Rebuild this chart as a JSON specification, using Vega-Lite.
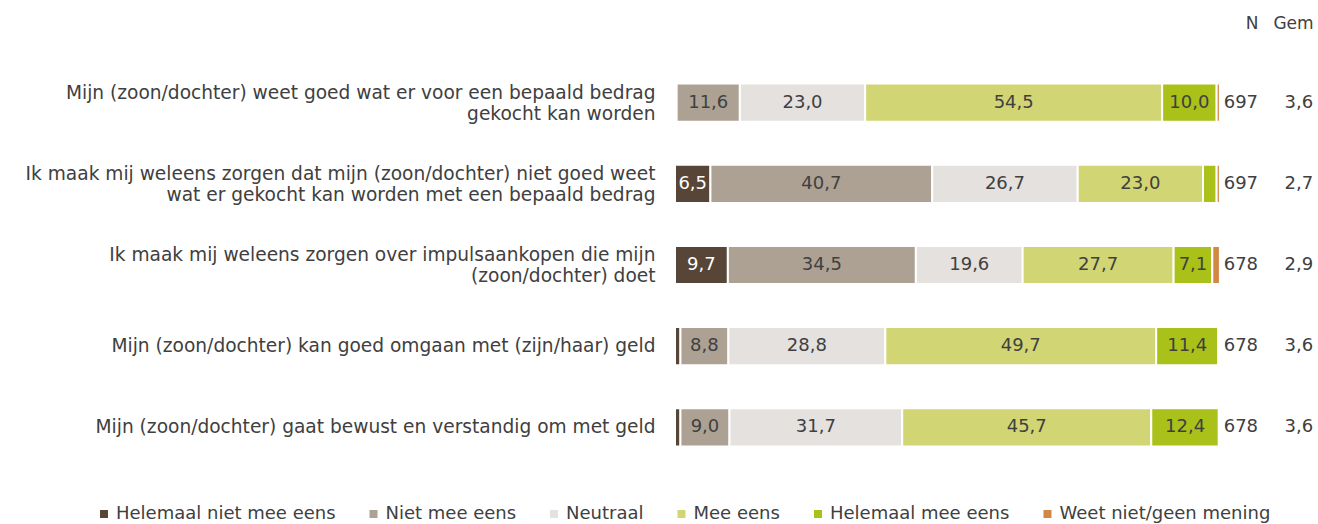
{
  "$schema": "https://vega.github.io/schema/vega-lite/v6.json",
  "width": 643,
  "height": 406,
  "autosize": "none",
  "padding": {"left": 675, "top": 62, "right": 0, "bottom": 56},
  "config": {
    "font": "DejaVu Sans",
    "view": {"stroke": null},
    "text": {"font": "DejaVu Sans"}
  },
  "datasets": {
    "bars": [
      {"q": "Mijn (zoon/dochter) weet goed wat er voor een bepaald bedrag|gekocht kan worden", "cat": "Helemaal niet mee eens", "ci": 0, "value": 0.3},
      {"q": "Mijn (zoon/dochter) weet goed wat er voor een bepaald bedrag|gekocht kan worden", "cat": "Niet mee eens", "ci": 1, "value": 11.6},
      {"q": "Mijn (zoon/dochter) weet goed wat er voor een bepaald bedrag|gekocht kan worden", "cat": "Neutraal", "ci": 2, "value": 23.0},
      {"q": "Mijn (zoon/dochter) weet goed wat er voor een bepaald bedrag|gekocht kan worden", "cat": "Mee eens", "ci": 3, "value": 54.5},
      {"q": "Mijn (zoon/dochter) weet goed wat er voor een bepaald bedrag|gekocht kan worden", "cat": "Helemaal mee eens", "ci": 4, "value": 10.0},
      {"q": "Mijn (zoon/dochter) weet goed wat er voor een bepaald bedrag|gekocht kan worden", "cat": "Weet niet/geen mening", "ci": 5, "value": 0.6},

      {"q": "Ik maak mij weleens zorgen dat mijn (zoon/dochter) niet goed weet|wat er gekocht kan worden met een bepaald bedrag", "cat": "Helemaal niet mee eens", "ci": 0, "value": 6.5},
      {"q": "Ik maak mij weleens zorgen dat mijn (zoon/dochter) niet goed weet|wat er gekocht kan worden met een bepaald bedrag", "cat": "Niet mee eens", "ci": 1, "value": 40.7},
      {"q": "Ik maak mij weleens zorgen dat mijn (zoon/dochter) niet goed weet|wat er gekocht kan worden met een bepaald bedrag", "cat": "Neutraal", "ci": 2, "value": 26.7},
      {"q": "Ik maak mij weleens zorgen dat mijn (zoon/dochter) niet goed weet|wat er gekocht kan worden met een bepaald bedrag", "cat": "Mee eens", "ci": 3, "value": 23.0},
      {"q": "Ik maak mij weleens zorgen dat mijn (zoon/dochter) niet goed weet|wat er gekocht kan worden met een bepaald bedrag", "cat": "Helemaal mee eens", "ci": 4, "value": 2.5},
      {"q": "Ik maak mij weleens zorgen dat mijn (zoon/dochter) niet goed weet|wat er gekocht kan worden met een bepaald bedrag", "cat": "Weet niet/geen mening", "ci": 5, "value": 0.6},

      {"q": "Ik maak mij weleens zorgen over impulsaankopen die mijn|(zoon/dochter) doet", "cat": "Helemaal niet mee eens", "ci": 0, "value": 9.7},
      {"q": "Ik maak mij weleens zorgen over impulsaankopen die mijn|(zoon/dochter) doet", "cat": "Niet mee eens", "ci": 1, "value": 34.5},
      {"q": "Ik maak mij weleens zorgen over impulsaankopen die mijn|(zoon/dochter) doet", "cat": "Neutraal", "ci": 2, "value": 19.6},
      {"q": "Ik maak mij weleens zorgen over impulsaankopen die mijn|(zoon/dochter) doet", "cat": "Mee eens", "ci": 3, "value": 27.7},
      {"q": "Ik maak mij weleens zorgen over impulsaankopen die mijn|(zoon/dochter) doet", "cat": "Helemaal mee eens", "ci": 4, "value": 7.1},
      {"q": "Ik maak mij weleens zorgen over impulsaankopen die mijn|(zoon/dochter) doet", "cat": "Weet niet/geen mening", "ci": 5, "value": 1.4},

      {"q": "Mijn (zoon/dochter)  kan goed omgaan met (zijn/haar) geld", "cat": "Helemaal niet mee eens", "ci": 0, "value": 1.0},
      {"q": "Mijn (zoon/dochter)  kan goed omgaan met (zijn/haar) geld", "cat": "Niet mee eens", "ci": 1, "value": 8.8},
      {"q": "Mijn (zoon/dochter)  kan goed omgaan met (zijn/haar) geld", "cat": "Neutraal", "ci": 2, "value": 28.8},
      {"q": "Mijn (zoon/dochter)  kan goed omgaan met (zijn/haar) geld", "cat": "Mee eens", "ci": 3, "value": 49.7},
      {"q": "Mijn (zoon/dochter)  kan goed omgaan met (zijn/haar) geld", "cat": "Helemaal mee eens", "ci": 4, "value": 11.4},
      {"q": "Mijn (zoon/dochter)  kan goed omgaan met (zijn/haar) geld", "cat": "Weet niet/geen mening", "ci": 5, "value": 0.3},

      {"q": "Mijn (zoon/dochter)  gaat bewust en verstandig om met geld", "cat": "Helemaal niet mee eens", "ci": 0, "value": 1.0},
      {"q": "Mijn (zoon/dochter)  gaat bewust en verstandig om met geld", "cat": "Niet mee eens", "ci": 1, "value": 9.0},
      {"q": "Mijn (zoon/dochter)  gaat bewust en verstandig om met geld", "cat": "Neutraal", "ci": 2, "value": 31.7},
      {"q": "Mijn (zoon/dochter)  gaat bewust en verstandig om met geld", "cat": "Mee eens", "ci": 3, "value": 45.7},
      {"q": "Mijn (zoon/dochter)  gaat bewust en verstandig om met geld", "cat": "Helemaal mee eens", "ci": 4, "value": 12.4},
      {"q": "Mijn (zoon/dochter)  gaat bewust en verstandig om met geld", "cat": "Weet niet/geen mening", "ci": 5, "value": 0.2}
    ],
    "stats": [
      {"q": "Mijn (zoon/dochter) weet goed wat er voor een bepaald bedrag|gekocht kan worden", "n": 697, "gem": 3.6},
      {"q": "Ik maak mij weleens zorgen dat mijn (zoon/dochter) niet goed weet|wat er gekocht kan worden met een bepaald bedrag", "n": 697, "gem": 2.7},
      {"q": "Ik maak mij weleens zorgen over impulsaankopen die mijn|(zoon/dochter) doet", "n": 678, "gem": 2.9},
      {"q": "Mijn (zoon/dochter)  kan goed omgaan met (zijn/haar) geld", "n": 678, "gem": 3.6},
      {"q": "Mijn (zoon/dochter)  gaat bewust en verstandig om met geld", "n": 678, "gem": 3.6}
    ]
  },
  "encoding": {
    "y": {
      "field": "q",
      "type": "nominal",
      "sort": null,
      "scale": {"paddingInner": 0.53, "paddingOuter": 0.265},
      "axis": {
        "title": null,
        "domain": false,
        "ticks": false,
        "labelExpr": "split(datum.label, '|')",
        "labelAlign": "right",
        "labelPadding": 20,
        "labelFontSize": 18.6,
        "labelColor": "#404040",
        "labelLimit": 800,
        "labelLineHeight": 21,
        "labelOffset": {"condition": {"test": "indexof(datum.label, '|') >= 0", "value": -10}, "value": 0}
      }
    }
  },
  "layer": [
    {
      "data": {"name": "bars"},
      "transform": [
        {"stack": "value", "groupby": ["q"], "sort": [{"field": "ci"}], "as": ["x0", "x1"]}
      ],
      "mark": {"type": "bar", "stroke": "white", "strokeWidth": 2},
      "encoding": {
        "x": {
          "field": "x0",
          "type": "quantitative",
          "scale": {"domain": [0, 118], "nice": false, "zero": false},
          "axis": {
            "orient": "top",
            "title": null,
            "grid": false,
            "domain": false,
            "ticks": false,
            "values": [107, 117.1],
            "labelExpr": "datum.value < 110 ? 'N' : 'Gem'",
            "labelAlign": "right",
            "labelPadding": 30,
            "labelFontSize": 17,
            "labelColor": "#404040"
          }
        },
        "x2": {"field": "x1"},
        "color": {
          "field": "cat",
          "type": "nominal",
          "scale": {
            "domain": ["Helemaal niet mee eens", "Niet mee eens", "Neutraal", "Mee eens", "Helemaal mee eens", "Weet niet/geen mening"],
            "range": ["#574637", "#ada194", "#e4e1de", "#d1d573", "#a9c118", "#d08844"]
          },
          "legend": {
            "orient": "none",
            "legendX": -580,
            "legendY": 443,
            "direction": "horizontal",
            "title": null,
            "symbolType": "square",
            "symbolSize": 64,
            "symbolStrokeWidth": 0,
            "labelFontSize": 18,
            "labelColor": "#404040",
            "labelOffset": 3,
            "columnPadding": 28.5,
            "labelLimit": 400
          }
        }
      }
    },
    {
      "data": {"name": "bars"},
      "transform": [
        {"stack": "value", "groupby": ["q"], "sort": [{"field": "ci"}], "as": ["x0", "x1"]},
        {"filter": "datum.value >= 5"},
        {"calculate": "(datum.x0 + datum.x1) / 2", "as": "xm"},
        {"calculate": "replace(format(datum.value, '.1f'), '.', ',')", "as": "lbl"}
      ],
      "mark": {"type": "text", "fontSize": 18, "baseline": "middle", "align": "center"},
      "encoding": {
        "x": {"field": "xm", "type": "quantitative"},
        "text": {"field": "lbl"},
        "color": {
          "condition": {"test": "datum.ci == 0", "value": "white"},
          "value": "#404040"
        }
      }
    },
    {
      "data": {"name": "stats"},
      "mark": {"type": "text", "fontSize": 18, "baseline": "middle", "align": "right", "color": "#404040"},
      "encoding": {
        "x": {"datum": 107, "type": "quantitative"},
        "text": {"field": "n"}
      }
    },
    {
      "data": {"name": "stats"},
      "transform": [
        {"calculate": "replace(format(datum.gem, '.1f'), '.', ',')", "as": "g"}
      ],
      "mark": {"type": "text", "fontSize": 18, "baseline": "middle", "align": "right", "color": "#404040"},
      "encoding": {
        "x": {"datum": 117.1, "type": "quantitative"},
        "text": {"field": "g"}
      }
    }
  ]
}
